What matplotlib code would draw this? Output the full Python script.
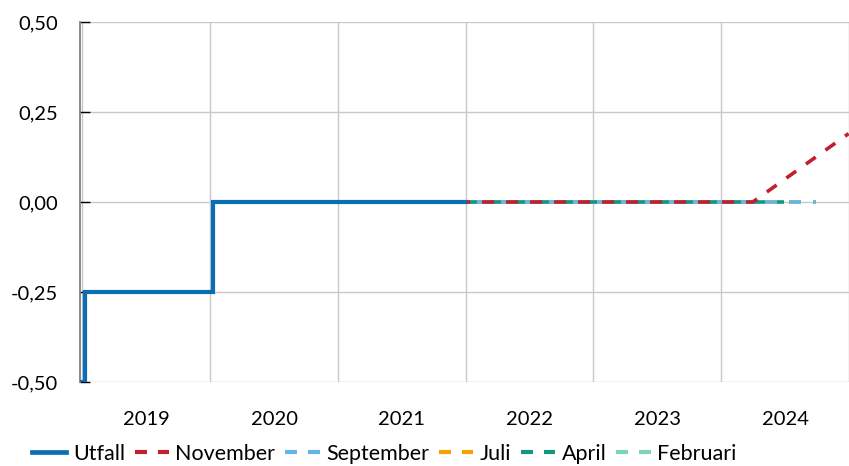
import matplotlib
matplotlib.use("Agg")
import matplotlib.pyplot as plt
from matplotlib.lines import Line2D
import pandas as pd

plt.rcParams['font.family'] = ['Lato', 'DejaVu Sans']
plt.rcParams['lines.scale_dashes'] = False

# ---- data ----
utfall_dates = ["2019-01-01", "2019-01-09", "2020-01-08", "2021-12-31"]
utfall_vals = [-0.50, -0.25, 0.00, 0.00]

nov_dates = ["2021-01-01", "2024-04-01", "2024-12-31"]
nov_vals = [0.00, 0.00, 0.19]

sep_dates = ["2021-01-01", "2024-09-30"]
sep_vals = [0.00, 0.00]

jul_dates = ["2021-01-01", "2024-09-30"]
jul_vals = [0.00, 0.00]

apr_dates = ["2021-01-01", "2024-06-30"]
apr_vals = [0.00, 0.00]

feb_dates = ["2021-01-01", "2024-03-31"]
feb_vals = [0.00, 0.00]

years = [2019, 2020, 2021, 2022, 2023, 2024]
yticks = [-0.50, -0.25, 0.00, 0.25, 0.50]
ytick_labels = ["-0,50", "-0,25", "0,00", "0,25", "0,50"]

labels = ["Utfall", "November", "September", "Juli", "April", "Februari"]
colors = {
    "Utfall": "#0a6db5",
    "November": "#c0202f",
    "September": "#63b6ea",
    "Juli": "#f5a300",
    "April": "#14977f",
    "Februari": "#7fd6b6",
}

px = 0.72  # points per pixel at 100 dpi
dash_on = 12 * px
dash_off = 12 * px
period = dash_on + dash_off

fig = plt.figure(figsize=(8.49, 4.66), dpi=100)
ax = fig.add_axes([80 / 849, (466 - 382) / 466, (849 - 80) / 849, 360 / 466])

def d(lst):
    return pd.to_datetime(lst)

lw_f = 2.6
ax.plot(d(feb_dates), feb_vals, color=colors["Februari"], lw=lw_f,
        linestyle=(period - 7 * px, (dash_on, dash_off)), zorder=2, dash_capstyle='butt')
ax.plot(d(jul_dates), jul_vals, color=colors["Juli"], lw=lw_f,
        linestyle=(period - 19 * px, (dash_on, dash_off)), zorder=2.1, dash_capstyle='butt')
ax.plot(d(sep_dates), sep_vals, color=colors["September"], lw=lw_f,
        linestyle=(period - 19 * px, (dash_on, dash_off)), zorder=2.2, dash_capstyle='butt')
ax.plot(d(apr_dates), apr_vals, color=colors["April"], lw=lw_f,
        linestyle=(period - 7 * px, (dash_on, dash_off)), zorder=2.3, dash_capstyle='butt')
ax.plot(d(nov_dates), nov_vals, color=colors["November"], lw=lw_f,
        linestyle=(0, (dash_on, dash_off)), zorder=2.4, dash_capstyle='butt')
ax.plot(d(utfall_dates), utfall_vals, color=colors["Utfall"], lw=3.0,
        drawstyle='steps-post', zorder=3, solid_joinstyle='miter')

ax.set_ylim(-0.5, 0.5)
ax.set_xlim(pd.Timestamp("2018-12-25"), pd.Timestamp("2024-12-10"))
ax.set_yticks(yticks)
ax.set_yticklabels(ytick_labels)
ax.tick_params(axis='y', direction='in', length=7, width=1, color='black',
               labelsize=14.5, pad=16)

ax.set_xticks([pd.Timestamp(f"{y}-01-01") for y in years] + [pd.Timestamp("2025-01-01")])
ax.set_xticklabels([])
ax.set_xticks([pd.Timestamp(f"{y}-07-02") for y in years], minor=True)
ax.set_xticklabels([str(y) for y in years], minor=True)
ax.tick_params(axis='x', which='both', length=0, labelsize=14.5, pad=21)

ax.grid(True, which='major', color='#c8c8c8', lw=1.0, zorder=0)
for s in ['top', 'right', 'bottom']:
    ax.spines[s].set_visible(False)
ax.spines['left'].set_color('#808080')
ax.spines['left'].set_linewidth(1.3)

handles = [Line2D([], [], color=colors["Utfall"], lw=3.4)]
for lab in labels[1:]:
    handles.append(Line2D([], [], color=colors[lab], lw=3.0,
                          linestyle=(0, (12 * px, 11 * px)), dash_capstyle='butt'))
fig.legend(handles, labels, loc='upper left', bbox_to_anchor=(32 / 849, (466 - 444) / 466),
           ncol=6, frameon=False, fontsize=15.5, handlelength=1.6,
           handletextpad=0.3, columnspacing=0.45, borderaxespad=0, borderpad=0)

fig.savefig("out.png", dpi=100)
